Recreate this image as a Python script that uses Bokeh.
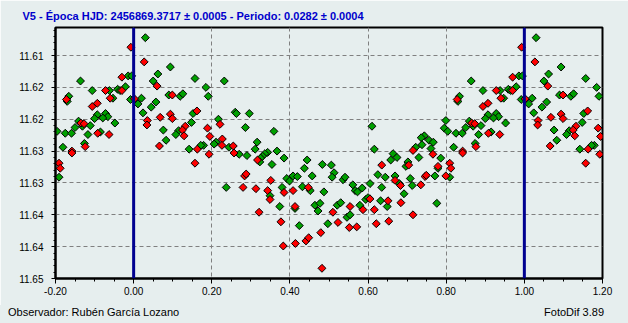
import numpy as np
from bokeh.plotting import figure
from bokeh.models import Range1d, FixedTicker, Span, Div
from bokeh.layouts import column
from bokeh.embed import file_html
from bokeh.resources import INLINE

title_text = "V5  -  Época HJD: 2456869.3717 ± 0.0005  -  Periodo: 0.0282 ± 0.0004"
observer_text = "Observador: Rubén García Lozano"
software_text = "FotoDif 3.89"

green_phase = [0.030, 0.011, 0.020, 0.024, 0.045, 0.057, 0.094, 0.062, 0.050, 0.157,
               0.232, 0.185, 0.191, 0.090, 0.119, 0.126, 0.152, 0.260, 0.263, 0.296,
               0.217, 0.148, 0.115, 0.108, 0.076, 0.083, 0.286, 0.359, 0.211, 0.206,
               0.179, 0.172, 0.142, 0.244, 0.316, 0.311, 0.270, 0.290, 0.343, 0.336,
               0.330, 0.325, 0.323, 0.367, 0.385, 0.354, 0.444, 0.437, 0.392, 0.399,
               0.408, 0.419, 0.237, 0.349, 0.380, 0.432, 0.374, 0.413, 0.424, 0.834,
               0.830, 0.799, 0.610, 0.795, 0.804, 0.825, 0.744, 0.736, 0.756, 0.767,
               0.738, 0.722, 0.761, 0.819, 0.616, 0.664, 0.674, 0.730, 0.658, 0.786,
               0.702, 0.697, 0.483, 0.506, 0.779, 0.809, 0.457, 0.513, 0.508, 0.536,
               0.541, 0.561, 0.567, 0.573, 0.585, 0.452, 0.487, 0.625, 0.644, 0.605,
               0.635, 0.669, 0.680, 0.708, 0.713, 0.771, 0.692, 0.464, 0.477, 0.472,
               0.521, 0.530, 0.594, 0.600, 0.579, 0.546, 0.554, 0.632, 0.649, 0.776,
               0.497, 0.864, 0.986, 0.995, 0.894, 0.938, 0.959, 0.965, 0.979, 0.947,
               0.992, 0.907, 0.900, 0.928, 0.934, 0.921, 0.859, 0.850, 0.869, 0.889,
               0.952, 0.841, 0.883, 0.915, 0.874]
green_mag = [11.6122, 11.6226, 11.6217, 11.6240, 11.6231, 11.6223, 11.6168, 11.6179, 11.6190, 11.6186,
             11.6190, 11.6200, 11.6214, 11.6212, 11.6214, 11.6210, 11.6241, 11.6239, 11.6241, 11.6241,
             11.6250, 11.6255, 11.6268, 11.6274, 11.6267, 11.6283, 11.6263, 11.6269, 11.6286, 11.6289,
             11.6291, 11.6291, 11.6297, 11.6294, 11.6286, 11.6297, 11.6305, 11.6307, 11.6302, 11.6304,
             11.6308, 11.6311, 11.6317, 11.6300, 11.6311, 11.6321, 11.6314, 11.6327, 11.6343, 11.6347,
             11.6339, 11.6340, 11.6357, 11.6370, 11.6357, 11.6356, 11.6387, 11.6390, 11.6417, 11.6214,
             11.6222, 11.6252, 11.6261, 11.6264, 11.6269, 11.6272, 11.6276, 11.6279, 11.6283, 11.6286,
             11.6290, 11.6294, 11.6296, 11.6294, 11.6297, 11.6304, 11.6310, 11.6310, 11.6314, 11.6311,
             11.6317, 11.6324, 11.6321, 11.6322, 11.6327, 11.6341, 11.6339, 11.6334, 11.6341, 11.6345,
             11.6341, 11.6353, 11.6362, 11.6364, 11.6358, 11.6362, 11.6364, 11.6337, 11.6341, 11.6351,
             11.6357, 11.6339, 11.6351, 11.6343, 11.6354, 11.6339, 11.6367, 11.6385, 11.6382, 11.6394,
             11.6385, 11.6381, 11.6376, 11.6373, 11.6385, 11.6404, 11.6400, 11.6378, 11.6387, 11.6382,
             11.6414, 11.6190, 11.6182, 11.6182, 11.6205, 11.6205, 11.6203, 11.6205, 11.6199, 11.6217,
             11.6219, 11.6243, 11.6249, 11.6241, 11.6246, 11.6248, 11.6253, 11.6263, 11.6261, 11.6260,
             11.6256, 11.6272, 11.6274, 11.6270, 11.6288]

red_phase = [0.027, 0.002, 0.035, 0.034, 0.060, 0.068, 0.099, 0.094, 0.099, 0.162,
             0.221, 0.132, 0.125, 0.129, 0.066, 0.189, 0.195, 0.227, 0.226, 0.163,
             0.255, 0.193, 0.257, 0.317, 0.157, 0.284, 0.288, 0.351, 0.280, 0.313,
             0.343, 0.349, 0.385, 0.408, 0.447, 0.413, 0.321, 0.377, 0.383, 0.414,
             0.441, 0.448, 0.828, 0.715, 0.766, 0.704, 0.635, 0.779, 0.809, 0.812,
             0.799, 0.683, 0.735, 0.746, 0.749, 0.669, 0.510, 0.605, 0.587, 0.554,
             0.616, 0.651, 0.684, 0.715, 0.523, 0.552, 0.571, 0.621, 0.653, 0.479,
             0.482, 0.993, 0.970, 0.928, 0.970, 0.940, 0.894, 0.907, 0.865, 0.873,
             0.908, 0.937, 0.876, 0.842, 0.842]
red_mag = [11.6160, 11.6218, 11.6252, 11.6259, 11.6198, 11.6247, 11.6212, 11.6242, 11.6249, 11.6237,
           11.6258, 11.6261, 11.6267, 11.6276, 11.6292, 11.6264, 11.6277, 11.6281, 11.6291, 11.6297,
           11.6292, 11.6305, 11.6303, 11.6314, 11.6319, 11.6339, 11.6336, 11.6346, 11.6357, 11.6359,
           11.6362, 11.6376, 11.6365, 11.6362, 11.6357, 11.6387, 11.6396, 11.6411, 11.6449, 11.6445,
           11.6441, 11.6436, 11.6219, 11.6299, 11.6305, 11.6322, 11.6322, 11.6324, 11.6319, 11.6327,
           11.6339, 11.6354, 11.6353, 11.6340, 11.6338, 11.6346, 11.6396, 11.6375, 11.6392, 11.6387,
           11.6392, 11.6378, 11.6381, 11.6400, 11.6412, 11.6420, 11.6419, 11.6414, 11.6410, 11.6428,
           11.6484, 11.6137, 11.6184, 11.6205, 11.6205, 11.6217, 11.6230, 11.6225, 11.6256, 11.6257,
           11.6272, 11.6274, 11.6293, 11.6300, 11.6303]

x_ticks = [-0.2, 0.0, 0.2, 0.4, 0.6, 0.8, 1.0, 1.2]
x_tick_labels = ["-0.20", "0.00", "0.20", "0.40", "0.60", "0.80", "1.00", "1.20"]
y_ticks = [11.615, 11.62, 11.625, 11.63, 11.635, 11.64, 11.645, 11.65]
y_tick_labels = ["11.61", "11.62", "11.62", "11.63", "11.63", "11.64", "11.64", "11.65"]
epoch_lines = [0.0, 1.0]

BG = "#e6eeee"
FONT = "Liberation Sans"


def fold(phase, mag):
    ph = np.asarray(phase, dtype=float)
    mg = np.asarray(mag, dtype=float)
    lo = ph < 0.2
    hi = ph >= 0.8
    return (np.concatenate([ph, ph[lo] + 1.0, ph[hi] - 1.0]),
            np.concatenate([mg, mg[lo], mg[hi]]))


gx, gy = fold(green_phase, green_mag)
rx, ry = fold(red_phase, red_mag)

p = figure(width=628, height=305, output_backend="svg", toolbar_location=None,
           x_range=Range1d(-0.2, 1.2), y_range=Range1d(11.65, 11.6106),
           min_border_left=55, min_border_right=26, min_border_top=27, min_border_bottom=27,
           background_fill_color=BG, border_fill_color=BG,
           outline_line_color="black", outline_line_width=2)

p.title.text = title_text
p.title.align = "left"
p.title.offset = -33
p.title.standoff = 11
p.title.text_font = FONT
p.title.text_font_style = "bold"
p.title.text_font_size = "11px"
p.title.text_color = "#0000cc"

p.xaxis.ticker = FixedTicker(ticks=x_ticks, minor_ticks=list(np.round(np.arange(-0.2, 1.2001, 0.05), 3)))
p.yaxis.ticker = FixedTicker(ticks=y_ticks, minor_ticks=list(np.round(np.arange(11.611, 11.6501, 0.001), 4)))
p.xaxis.major_label_overrides = dict(zip(x_ticks, x_tick_labels))
p.yaxis.major_label_overrides = dict(zip(y_ticks, y_tick_labels))

for ax in (p.xaxis, p.yaxis):
    ax.axis_line_color = "black"
    ax.axis_line_width = 2
    ax.major_tick_line_color = "black"
    ax.minor_tick_line_color = "black"
    ax.major_tick_in = 0
    ax.minor_tick_in = 0
    ax.major_label_text_font = FONT
    ax.major_label_text_font_size = "10px"
    ax.major_label_text_color = "black"
p.xaxis.major_tick_out = 5
p.xaxis.minor_tick_out = 3
p.xaxis.major_label_standoff = 3
p.yaxis.major_tick_out = 4
p.yaxis.minor_tick_out = 2
p.yaxis.major_label_standoff = 8

p.grid.grid_line_color = "#808080"
p.grid.grid_line_dash = "4 3"
p.grid.grid_line_width = 1

p.scatter(gx, gy, marker="square", angle=np.pi / 4, size=5.6,
          fill_color="#00a000", line_color="black", line_width=1)
p.scatter(rx, ry, marker="square", angle=np.pi / 4, size=5.6,
          fill_color="#ff0000", line_color="black", line_width=1)

for loc in epoch_lines:
    p.add_layout(Span(location=loc, dimension="height", line_color="#000090", line_width=3))

footer = Div(
    text=('<div style="width:628px;box-sizing:border-box;display:flex;'
          'justify-content:space-between;padding:0 24px 0 8px;line-height:13px;">'
          f'<span>{observer_text}</span><span>{software_text}</span></div>'),
    width=628, height=18, margin=0,
    styles={"background-color": BG, "font-family": FONT, "font-size": "11px", "color": "black"})

layout = column(p, footer, spacing=0)

open("out.html", "w").write(file_html(layout, INLINE))
